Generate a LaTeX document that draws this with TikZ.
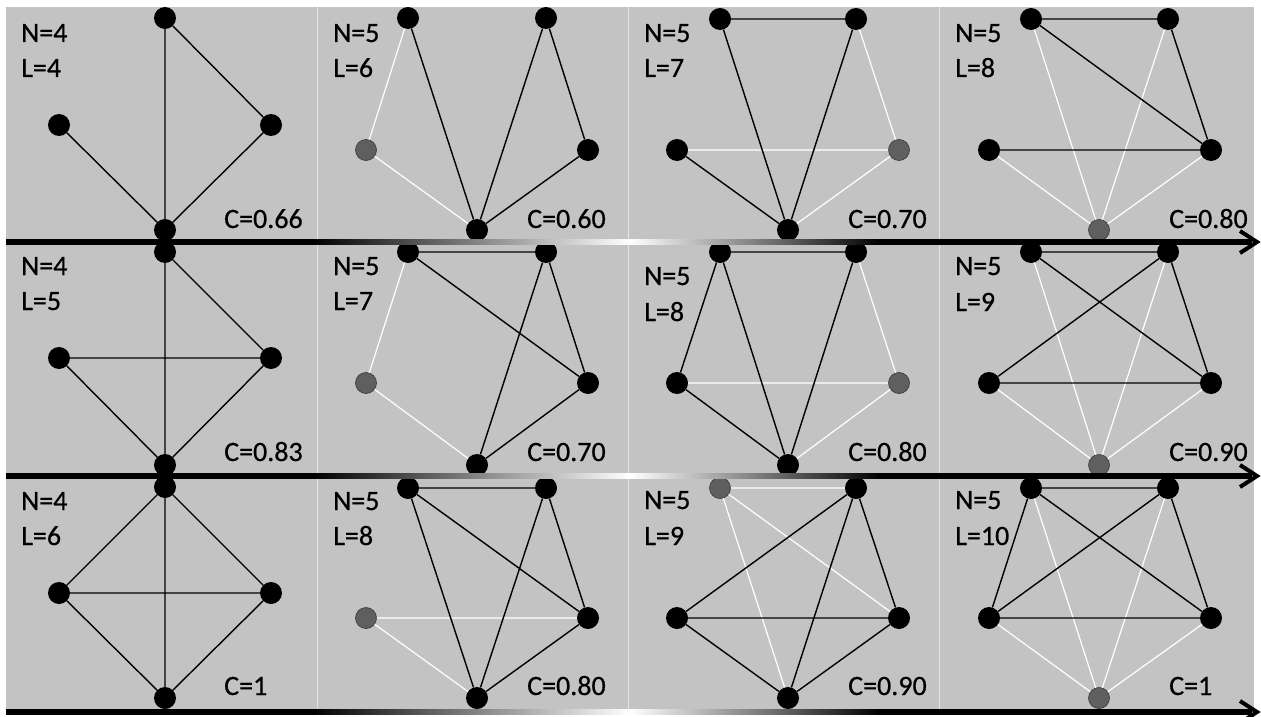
\documentclass[tikz,border=0pt]{standalone}
\usepackage{fontspec}
\setmainfont{Carlito}
\newfontfamily\labfont[FakeBold=0.6]{Carlito}
\definecolor{panelgray}{RGB}{195,195,195}
\definecolor{nodegray}{RGB}{95,95,95}
\definecolor{sepcol}{RGB}{228,228,228}
\newcommand\gradarrow[2]{%
  \coordinate (#1s) at (6,#2);
  \coordinate (#1e) at (1257,#2);
  \fill[black] (6,#2-2.6) rectangle (312,#2+2.6);
  \shade[left color=black,right color=white] (312,#2-2.6) rectangle (630,#2+2.6);
  \shade[left color=white,right color=black] (630,#2-2.6) rectangle (880,#2+2.6);
  \fill[black] (880,#2-2.6) rectangle (1252,#2+2.6);
  \draw[line width=4pt,line join=miter,line cap=butt] ([xshift=-17pt,yshift=-11pt]#1e) -- (#1e) -- ([xshift=-17pt,yshift=11pt]#1e);
}
\begin{document}
\begin{tikzpicture}[x=1pt,y=-1pt,
  bn/.style={circle,fill=black,minimum size=22pt,inner sep=0pt},
  gn/.style={circle,fill=nodegray,draw=black!75,line width=0.7pt,minimum size=21pt,inner sep=0pt},
  be/.style={draw=black,line width=1.4pt},
  we/.style={draw=white,line width=1.2pt},
  lab/.style={anchor=base west,inner sep=0pt,font=\labfont\fontsize{28}{30}\selectfont}]
\useasboundingbox (0,0) rectangle (1261,717);
% panels
\fill[panelgray] (6,7) rectangle (1254,242);
\fill[panelgray] (6,244) rectangle (1254,476);
\fill[panelgray] (6,478) rectangle (1254,712);
\foreach \x in {317,628,939} \draw[sepcol,line width=1pt] (\x,7) -- (\x,712);

% ---------- Row 1 ----------
\node[bn] (a1T) at (165,18) {};
\node[bn] (a1L) at (59,125) {};
\node[bn] (a1R) at (271,125) {};
\node[bn] (a1B) at (165,230) {};
\node[bn] (b1TL) at (408,18) {};
\node[bn] (b1TR) at (546,18) {};
\node[gn] (b1L) at (366,150) {};
\node[bn] (b1R) at (588,150) {};
\node[bn] (b1B) at (477,230) {};
\node[bn] (c1TL) at (720,19) {};
\node[bn] (c1TR) at (856,19) {};
\node[bn] (c1L) at (677,150) {};
\node[gn] (c1R) at (899,150) {};
\node[bn] (c1B) at (788,230) {};
\node[bn] (d1TL) at (1031,19) {};
\node[bn] (d1TR) at (1168,19) {};
\node[bn] (d1L) at (989,150) {};
\node[bn] (d1R) at (1211,150) {};
\node[gn] (d1B) at (1099,230) {};

% ---------- Row 2 ----------
\node[bn] (a2T) at (165,252) {};
\node[bn] (a2L) at (59,358) {};
\node[bn] (a2R) at (271,358) {};
\node[bn] (a2B) at (165,465) {};
\node[bn] (b2TL) at (408,252) {};
\node[bn] (b2TR) at (546,252) {};
\node[gn] (b2L) at (366,383) {};
\node[bn] (b2R) at (588,383) {};
\node[bn] (b2B) at (477,465) {};
\node[bn] (c2TL) at (720,252) {};
\node[bn] (c2TR) at (856,252) {};
\node[bn] (c2L) at (677,383) {};
\node[gn] (c2R) at (899,383) {};
\node[bn] (c2B) at (788,465) {};
\node[bn] (d2TL) at (1031,252) {};
\node[bn] (d2TR) at (1168,252) {};
\node[bn] (d2L) at (989,383) {};
\node[bn] (d2R) at (1211,383) {};
\node[gn] (d2B) at (1099,465) {};

% ---------- Row 3 ----------
\node[bn] (a3T) at (165,487) {};
\node[bn] (a3L) at (59,593) {};
\node[bn] (a3R) at (271,593) {};
\node[bn] (a3B) at (165,698) {};
\node[bn] (b3TL) at (408,488) {};
\node[bn] (b3TR) at (546,488) {};
\node[gn] (b3L) at (366,618) {};
\node[bn] (b3R) at (588,618) {};
\node[bn] (b3B) at (477,698) {};
\node[gn] (c3TL) at (720,488) {};
\node[bn] (c3TR) at (856,488) {};
\node[bn] (c3L) at (677,618) {};
\node[bn] (c3R) at (899,618) {};
\node[bn] (c3B) at (788,698) {};
\node[bn] (d3TL) at (1031,488) {};
\node[bn] (d3TR) at (1168,488) {};
\node[bn] (d3L) at (989,618) {};
\node[bn] (d3R) at (1211,618) {};
\node[gn] (d3B) at (1099,698) {};

% ---------- Edges ----------
\draw[be] (a1T) -- (a1B) (a1T) -- (a1R) (a1L) -- (a1B) (a1R) -- (a1B);
\draw[we] (b1L) -- (b1TL) (b1L) -- (b1B);
\draw[be] (b1TL) -- (b1B) (b1TR) -- (b1B) (b1TR) -- (b1R) (b1R) -- (b1B);
\draw[we] (c1TR) -- (c1R) (c1L) -- (c1R) (c1R) -- (c1B);
\draw[be] (c1TL) -- (c1TR) (c1TL) -- (c1B) (c1TR) -- (c1B) (c1L) -- (c1B);
\draw[we] (d1TL) -- (d1B) (d1TR) -- (d1B) (d1L) -- (d1B) (d1R) -- (d1B);
\draw[be] (d1TL) -- (d1TR) (d1TL) -- (d1R) (d1TR) -- (d1R) (d1L) -- (d1R);
\draw[be] (a2T) -- (a2B) (a2L) -- (a2R) (a2T) -- (a2R) (a2L) -- (a2B) (a2R) -- (a2B);
\draw[we] (b2L) -- (b2TL) (b2L) -- (b2B);
\draw[be] (b2TL) -- (b2TR) (b2TL) -- (b2R) (b2TR) -- (b2R) (b2TR) -- (b2B) (b2R) -- (b2B);
\draw[we] (c2TR) -- (c2R) (c2L) -- (c2R) (c2R) -- (c2B);
\draw[be] (c2TL) -- (c2TR) (c2TL) -- (c2L) (c2TL) -- (c2B) (c2TR) -- (c2B) (c2L) -- (c2B);
\draw[we] (d2TL) -- (d2B) (d2TR) -- (d2B) (d2L) -- (d2B) (d2R) -- (d2B);
\draw[be] (d2TL) -- (d2TR) (d2TL) -- (d2R) (d2TR) -- (d2L) (d2TR) -- (d2R) (d2L) -- (d2R);
\draw[be] (a3T) -- (a3B) (a3L) -- (a3R) (a3T) -- (a3L) (a3T) -- (a3R) (a3L) -- (a3B) (a3R) -- (a3B);
\draw[we] (b3L) -- (b3R) (b3L) -- (b3B);
\draw[be] (b3TL) -- (b3TR) (b3TL) -- (b3R) (b3TL) -- (b3B) (b3TR) -- (b3R) (b3TR) -- (b3B) (b3R) -- (b3B);
\draw[we] (c3TL) -- (c3TR) (c3TL) -- (c3R) (c3TL) -- (c3B);
\draw[be] (c3TR) -- (c3L) (c3TR) -- (c3R) (c3TR) -- (c3B) (c3L) -- (c3R) (c3L) -- (c3B) (c3R) -- (c3B);
\draw[we] (d3TL) -- (d3B) (d3TR) -- (d3B) (d3L) -- (d3B) (d3R) -- (d3B);
\draw[be] (d3TL) -- (d3TR) (d3TL) -- (d3L) (d3TL) -- (d3R) (d3TR) -- (d3L) (d3TR) -- (d3R) (d3L) -- (d3R);

% ---------- Labels ----------
\node[lab] (ta1n) at (21,42) {N=4};  \node[lab] (ta1l) at (21,77) {L=4};  \node[lab] (ta1c) at (224,228) {C=0.66};
\node[lab] (tb1n) at (333,42) {N=5}; \node[lab] (tb1l) at (333,77) {L=6}; \node[lab] (tb1c) at (527,228) {C=0.60};
\node[lab] (tc1n) at (644,42) {N=5}; \node[lab] (tc1l) at (644,77) {L=7}; \node[lab] (tc1c) at (848,228) {C=0.70};
\node[lab] (td1n) at (955,42) {N=5}; \node[lab] (td1l) at (955,77) {L=8}; \node[lab] (td1c) at (1169,228) {C=0.80};

\node[lab] (ta2n) at (21,275) {N=4};  \node[lab] (ta2l) at (21,310) {L=5};  \node[lab] (ta2c) at (224,461) {C=0.83};
\node[lab] (tb2n) at (333,275) {N=5}; \node[lab] (tb2l) at (333,310) {L=7}; \node[lab] (tb2c) at (527,461) {C=0.70};
\node[lab] (tc2n) at (644,285) {N=5}; \node[lab] (tc2l) at (644,321) {L=8}; \node[lab] (tc2c) at (848,461) {C=0.80};
\node[lab] (td2n) at (955,275) {N=5}; \node[lab] (td2l) at (955,311) {L=9}; \node[lab] (td2c) at (1169,461) {C=0.90};

\node[lab] (ta3n) at (21,510) {N=4};  \node[lab] (ta3l) at (21,545) {L=6};  \node[lab] (ta3c) at (224,695) {C=1};
\node[lab] (tb3n) at (333,510) {N=5}; \node[lab] (tb3l) at (333,545) {L=8}; \node[lab] (tb3c) at (527,695) {C=0.80};
\node[lab] (tc3n) at (644,509) {N=5}; \node[lab] (tc3l) at (644,545) {L=9}; \node[lab] (tc3c) at (848,695) {C=0.90};
\node[lab] (td3n) at (955,509) {N=5}; \node[lab] (td3l) at (955,545) {L=10}; \node[lab] (td3c) at (1169,695) {C=1};

% ---------- Arrows ----------
\gradarrow{arA}{242}
\gradarrow{arB}{476}
\gradarrow{arC}{712}
\end{tikzpicture}
\end{document}
